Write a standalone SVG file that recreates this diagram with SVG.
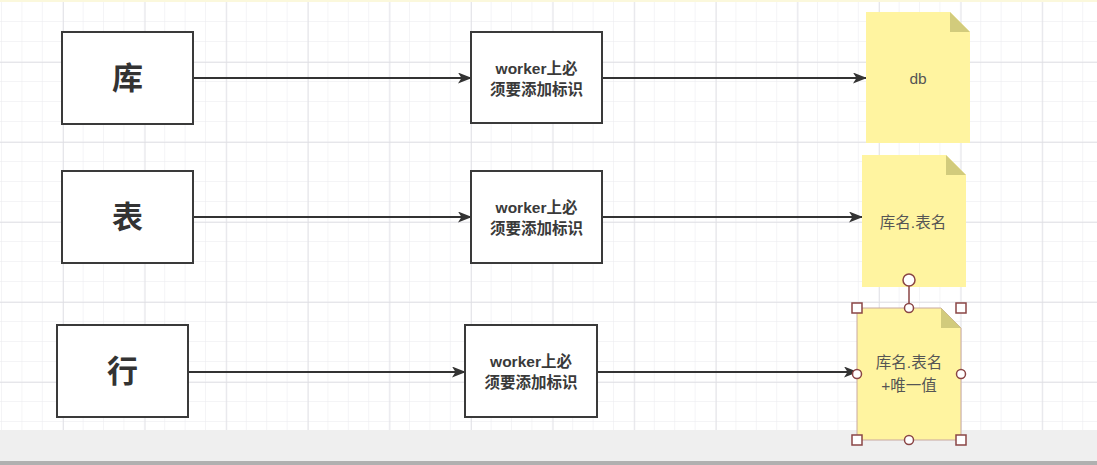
<svg xmlns="http://www.w3.org/2000/svg" width="1097" height="465" viewBox="0 0 1097 465">
<defs>
<pattern id="minor" patternUnits="userSpaceOnUse" x="2" y="2" width="20.4" height="20">
<path d="M20.4 0V20M0 20H20.4" fill="none" stroke="#eaeaee" stroke-width="1"/>
</pattern>
<pattern id="major" patternUnits="userSpaceOnUse" x="63" y="62" width="81.6" height="80">
<path d="M0 0V80M0 0H81.6" fill="none" stroke="#dedee3" stroke-width="1.5"/>
</pattern>
<marker id="arr" viewBox="0 0 14 11" refX="13" refY="5.5" markerWidth="14" markerHeight="11" markerUnits="userSpaceOnUse" orient="auto">
<path d="M0 0L14 5.5L0 11L3.5 5.5Z" fill="#333"/>
</marker>
<style>
.box{fill:#fff;stroke:#3a3a3a;stroke-width:2}
.big{font-family:"Noto Sans CJK SC","Liberation Sans",sans-serif;font-size:31px;font-weight:bold;fill:#333;text-anchor:middle}
.mid{font-family:"Liberation Sans","Noto Sans CJK SC",sans-serif;font-size:15.5px;font-weight:bold;fill:#3a3a3a;text-anchor:middle}
.note{fill:#fff4a0}
.fold{fill:#d2cb7c}
.nt{font-family:"Liberation Sans","Noto Sans CJK SC",sans-serif;font-size:15.5px;fill:#555;text-anchor:middle}
.edge{stroke:#333;stroke-width:2;fill:none;marker-end:url(#arr)}
.hs{fill:#fff;stroke:#8a4545;stroke-width:1.5}
</style>
</defs>
<rect width="1097" height="465" fill="#fff"/>
<rect width="1097" height="430" fill="url(#minor)"/>
<rect width="1097" height="430" fill="url(#major)"/>
<rect y="0" width="1097" height="2" fill="#fbf8dc"/>
<rect y="430" width="1097" height="35" fill="#efefef"/>
<rect y="461" width="1097" height="4" fill="#b0b0b0"/>

<g id="connectors">
<path class="edge" d="M193 78H471"/>
<path class="edge" d="M602 78H866"/>
<path class="edge" d="M193 217H471"/>
<path class="edge" d="M602 217H862"/>
<path class="edge" d="M188 372H465"/>
<path class="edge" d="M597 372H857"/>
</g>

<g id="ku"><rect class="box" x="62" y="32" width="131" height="92"/><text class="big" x="127.5" y="89">库</text></g>
<g id="biao"><rect class="box" x="62" y="171" width="131" height="92"/><text class="big" x="127.5" y="228">表</text></g>
<g id="hang"><rect class="box" x="57" y="325" width="131" height="92"/><text class="big" x="122.5" y="382">行</text></g>

<g id="w1"><rect class="box" x="471" y="32" width="131" height="91"/><text class="mid" x="536.5" y="74">worker上必</text><text class="mid" x="536.5" y="95">须要添加标识</text></g>
<g id="w2"><rect class="box" x="471" y="171" width="131" height="92"/><text class="mid" x="536.5" y="213">worker上必</text><text class="mid" x="536.5" y="234">须要添加标识</text></g>
<g id="w3"><rect class="box" x="465" y="325" width="132" height="92"/><text class="mid" x="531" y="367">worker上必</text><text class="mid" x="531" y="388">须要添加标识</text></g>

<g id="n1"><path class="note" d="M866 12H950L970 32V143H866Z"/><path class="fold" d="M950 12L970 32H950Z"/><text class="nt" x="918" y="84">db</text></g>
<g id="n2"><path class="note" d="M862 155H946L966 175V287H862Z"/><path class="fold" d="M946 155L966 175H946Z"/><text class="nt" x="913" y="228">库名.表名</text></g>
<g id="n3"><path class="note" d="M857 308H941L961 328V440H857Z" stroke="#c8a8a0" stroke-width="1"/><path class="fold" d="M941 308L961 328H941Z"/><text class="nt" x="909" y="368">库名.表名</text><text class="nt" x="909" y="391">+唯一值</text>
<line x1="909" y1="286" x2="909" y2="308" stroke="#8a4545" stroke-width="1.5"/>
<circle class="hs" cx="909" cy="280" r="6"/>
<circle class="hs" cx="909" cy="308" r="4.5"/>
<circle class="hs" cx="909" cy="440" r="4.5"/>
<circle class="hs" cx="857" cy="374" r="4.5"/>
<circle class="hs" cx="961" cy="374" r="4.5"/>
<rect class="hs" x="852" y="303" width="10" height="10"/>
<rect class="hs" x="956" y="303" width="10" height="10"/>
<rect class="hs" x="852" y="435" width="10" height="10"/>
<rect class="hs" x="956" y="435" width="10" height="10"/>
</g>
</svg>
